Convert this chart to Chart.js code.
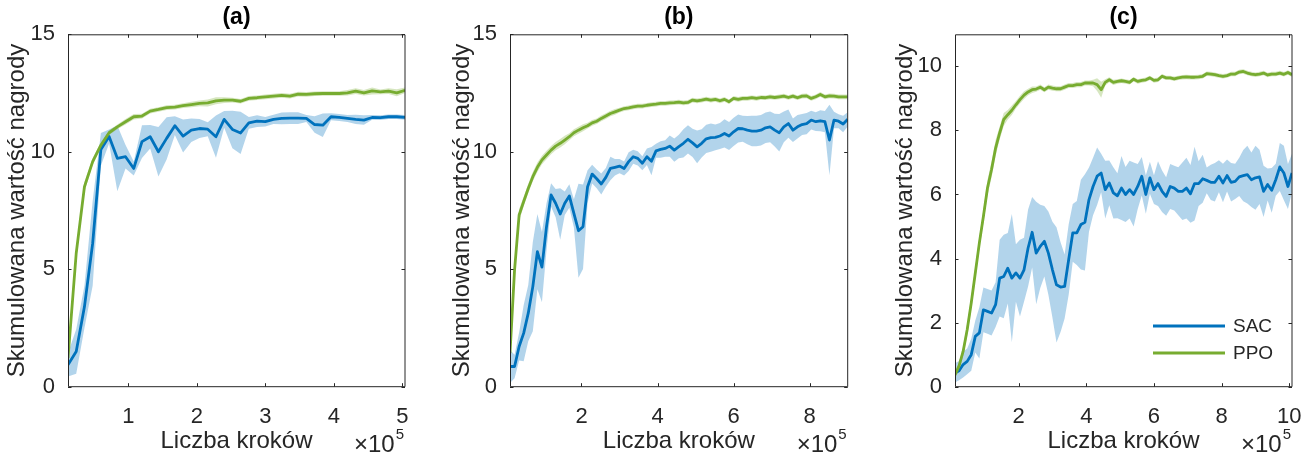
<!DOCTYPE html>
<html>
<head>
<meta charset="utf-8">
<script src="https://cdn.jsdelivr.net/npm/chart.js@4.4.0/dist/chart.umd.min.js"></script>
<style>
  html, body { margin: 0; padding: 0; background: #fff; }
  #wrap { position: relative; width: 1311px; height: 457px; overflow: hidden; }
  canvas { position: absolute; top: 0; }
</style>
</head>
<body>
<div id="wrap">
  <canvas id="chartA" width="442" height="457" style="left:0px"></canvas>
  <canvas id="chartB" width="445" height="457" style="left:442px"></canvas>
  <canvas id="chartC" width="424" height="457" style="left:887px"></canvas>
</div>
<script>
// one logged point every 12000 steps
const STEP = 12000
const xLabel = 'Liczba kroków'
const yLabel = 'Skumulowana wartość nagrody'
const seriesNames = ['SAC', 'PPO']

// (a)
const sacMeanA = [0.93,1.5,3.4,6.1,10.1,10.65,9.72,9.79,9.29,10.43,
  10.64,10.0,10.57,11.11,10.67,10.92,10.99,10.96,10.64,11.38,
  10.95,10.8,11.23,11.3,11.28,11.38,11.42,11.43,11.43,11.42,
  11.16,11.13,11.49,11.46,11.42,11.38,11.35,11.46,11.45,11.49,11.49,11.46]
const sacSdA = [0.5,0.95,0.9,1.8,0.7,0.3,1.4,0.5,0.3,0.7,
  0.5,1.05,0.9,0.4,0.7,0.5,0.4,0.3,0.9,0.36,
  0.8,0.9,0.25,0.25,0.2,0.2,0.25,0.25,0.25,0.15,
  0.35,0.5,0.15,0.15,0.15,0.2,0.2,0.1,0.1,0.1,0.1,0.1]
const ppoMeanA = [1.22,5.68,8.51,9.58,10.28,10.81,11.06,11.28,11.49,11.52,
  11.73,11.8,11.88,11.9,11.96,12.01,12.06,12.08,12.17,12.2,
  12.2,12.15,12.27,12.3,12.34,12.37,12.4,12.37,12.45,12.44,
  12.47,12.48,12.48,12.48,12.51,12.58,12.51,12.59,12.55,12.58,12.51,12.62]
const ppoSdA = [0.15,0.25,0.2,0.15,0.12,0.1,0.1,0.12,0.12,0.1,
  0.1,0.1,0.1,0.1,0.1,0.12,0.12,0.15,0.15,0.12,
  0.1,0.1,0.1,0.1,0.1,0.1,0.1,0.1,0.1,0.1,
  0.1,0.1,0.1,0.1,0.12,0.12,0.12,0.15,0.1,0.12,0.15,0.12]

// (b)
const sacMeanB = [0.86,0.86,1.71,2.28,3.13,4.26,5.75,5.09,6.81,8.16,
  7.81,7.35,7.81,8.12,7.38,6.64,6.81,8.51,9.05,8.85,
  8.63,8.91,9.29,9.34,9.39,9.29,9.58,9.79,9.72,9.51,
  9.79,9.6,10.04,10.1,10.14,10.24,10.07,10.22,10.36,10.53,
  10.38,10.21,10.36,10.55,10.6,10.61,10.67,10.78,10.67,10.85,
  10.99,10.98,10.92,10.88,10.88,10.92,11.02,11.06,10.92,10.81,
  11.06,11.2,10.92,11.06,11.16,11.2,11.35,11.28,11.32,11.28,
  10.5,11.35,11.3,11.18,11.38]
const sacSdB = [0.7,0.5,0.6,1.2,1.2,1.9,1.6,1.5,1.0,0.5,
  0.6,1.1,0.5,0.5,0.6,2.0,1.8,0.7,0.4,0.4,
  0.45,0.4,0.5,0.35,0.3,0.3,0.4,0.3,0.3,0.3,
  0.35,0.6,0.3,0.35,0.35,0.45,0.5,0.5,0.6,0.6,
  0.6,0.7,0.6,0.6,0.6,0.55,0.55,0.6,0.6,0.6,
  0.6,0.55,0.6,0.65,0.65,0.65,0.65,0.65,0.7,0.8,
  0.65,0.6,0.5,0.5,0.45,0.45,0.4,0.4,0.45,0.45,
  1.5,0.35,0.3,0.35,0.3]
const ppoMeanB = [1.43,4.97,7.31,7.88,8.44,8.94,9.34,9.65,9.86,10.07,
  10.24,10.36,10.5,10.64,10.81,10.92,11.02,11.11,11.23,11.3,
  11.42,11.52,11.63,11.7,11.77,11.84,11.87,11.91,11.94,11.94,
  11.98,12.01,12.03,12.06,12.06,12.08,12.09,12.11,12.08,12.1,
  12.2,12.17,12.2,12.24,12.2,12.23,12.17,12.23,12.13,12.27,
  12.23,12.27,12.27,12.3,12.27,12.31,12.3,12.34,12.31,12.34,
  12.37,12.31,12.37,12.3,12.37,12.38,12.27,12.34,12.44,12.34,
  12.38,12.37,12.34,12.34,12.34]
const ppoSdB = [0.2,0.3,0.25,0.2,0.2,0.2,0.2,0.18,0.18,0.18,
  0.18,0.18,0.18,0.15,0.15,0.15,0.15,0.12,0.12,0.12,
  0.12,0.12,0.12,0.12,0.1,0.1,0.1,0.1,0.1,0.1,
  0.1,0.1,0.1,0.1,0.1,0.1,0.1,0.1,0.1,0.1,
  0.1,0.1,0.1,0.1,0.1,0.1,0.1,0.1,0.1,0.1,
  0.1,0.1,0.1,0.1,0.1,0.1,0.1,0.1,0.1,0.1,
  0.1,0.1,0.1,0.1,0.1,0.1,0.1,0.1,0.1,0.1,
  0.1,0.1,0.1,0.1,0.1]

// (c)
const sacMeanC = [0.43,0.5,0.69,0.79,1.0,1.57,1.68,2.4,2.35,2.3,
  2.56,3.39,3.44,3.7,3.39,3.55,3.39,3.65,4.33,4.82,
  4.17,4.38,4.54,4.17,3.65,3.18,3.11,3.13,3.97,4.8,
  4.8,5.06,5.13,5.84,6.25,6.57,6.67,6.15,6.36,6.05,
  5.96,6.2,6.0,6.15,6.0,6.25,6.57,6.0,6.52,6.15,
  6.34,6.1,5.94,6.25,6.2,6.1,6.1,6.2,6.02,6.34,
  6.34,6.49,6.44,6.38,6.38,6.57,6.36,6.59,6.38,6.41,
  6.55,6.59,6.62,6.46,6.52,6.55,6.1,6.31,6.13,6.46,
  6.86,6.67,6.25,6.67]
const sacSdC = [0.3,0.3,0.4,0.4,0.5,0.5,0.8,0.7,0.7,0.7,
  0.7,1.2,1.3,1.1,2.0,0.9,1.2,1.0,1.2,1.1,
  1.6,1.3,1.1,1.3,1.5,1.8,1.4,1.0,1.1,0.9,
  1.0,1.4,1.5,1.0,0.9,0.9,0.6,0.9,0.7,0.8,
  0.7,1.0,0.86,0.9,1.0,0.7,0.6,0.6,0.5,0.45,
  0.7,0.65,0.6,0.7,0.7,0.75,0.9,0.95,0.9,1.15,
  0.7,0.75,0.4,0.55,0.6,0.5,0.6,0.5,0.6,0.55,
  0.6,0.8,0.9,0.85,1.0,0.85,0.8,0.5,0.7,0.5,
  0.75,0.85,0.7,0.6]
const ppoMeanC = [0.37,0.65,1.1,1.78,2.61,3.55,4.49,5.32,6.2,6.78,
  7.45,7.92,8.34,8.49,8.63,8.8,8.96,9.1,9.2,9.27,
  9.29,9.35,9.27,9.35,9.32,9.3,9.3,9.35,9.4,9.4,
  9.43,9.43,9.48,9.48,9.48,9.43,9.27,9.5,9.58,9.5,
  9.53,9.55,9.53,9.5,9.6,9.53,9.56,9.58,9.64,9.56,
  9.58,9.69,9.64,9.64,9.61,9.64,9.66,9.67,9.66,9.66,
  9.67,9.69,9.77,9.76,9.74,9.71,9.69,9.71,9.76,9.76,
  9.82,9.84,9.79,9.76,9.74,9.76,9.79,9.73,9.76,9.76,
  9.79,9.75,9.81,9.74]
const ppoSdC = [0.1,0.12,0.15,0.2,0.2,0.2,0.2,0.2,0.25,0.25,
  0.25,0.2,0.2,0.15,0.15,0.12,0.12,0.12,0.1,0.1,
  0.08,0.08,0.08,0.08,0.08,0.08,0.08,0.08,0.08,0.08,
  0.08,0.08,0.08,0.08,0.1,0.2,0.25,0.1,0.08,0.08,
  0.07,0.07,0.07,0.07,0.07,0.07,0.07,0.07,0.07,0.07,
  0.07,0.07,0.07,0.07,0.07,0.07,0.07,0.07,0.07,0.07,
  0.07,0.07,0.07,0.07,0.07,0.07,0.07,0.07,0.07,0.07,
  0.07,0.07,0.07,0.07,0.07,0.07,0.07,0.07,0.07,0.07,
  0.07,0.07,0.07,0.07]

const FONT = '"Liberation Sans", Arial, Helvetica, sans-serif'
const INK = '#262626'
const SAC_COLOR = '#0072BD'
const PPO_COLOR = '#77AC30'
const TICK = 3.5

// box round the axes with inward ticks, like matlab
const boxTicks = {
  id: 'boxTicks',
  afterDatasetsDraw(chart) {
    const {ctx, chartArea: a, scales: {x, y}} = chart
    ctx.save()
    ctx.strokeStyle = INK
    ctx.lineWidth = 1
    ctx.beginPath()
    ctx.rect(a.left + 0.5, a.top + 0.5, a.right - a.left - 0.5, a.bottom - a.top - 0.5)
    x.ticks.forEach(t => {
      const px = Math.round(x.getPixelForValue(t.value)) + 0.5
      ctx.moveTo(px, a.bottom); ctx.lineTo(px, a.bottom - TICK)
      ctx.moveTo(px, a.top); ctx.lineTo(px, a.top + TICK)
    })
    y.ticks.forEach(t => {
      const py = Math.round(y.getPixelForValue(t.value)) + 0.5
      ctx.moveTo(a.left, py); ctx.lineTo(a.left + TICK, py)
      ctx.moveTo(a.right, py); ctx.lineTo(a.right - TICK, py)
    })
    ctx.stroke()
    ctx.restore()
  }
}

// the x10^5 multiplier under the right end of the x axis
const exponent = {
  id: 'exponent',
  afterDraw(chart) {
    const {ctx, chartArea: a} = chart
    ctx.save()
    ctx.fillStyle = INK
    ctx.textBaseline = 'alphabetic'
    ctx.textAlign = 'right'
    ctx.font = '15px ' + FONT
    const supW = ctx.measureText('5').width
    ctx.fillText('5', a.right - 1, 439)
    ctx.font = '24px ' + FONT
    ctx.fillText('\u00d710', a.right - 2 - supW, 452)
    ctx.restore()
  }
}

// legend drawn inside the last panel
const insideLegend = {
  id: 'insideLegend',
  afterDraw(chart, args, opts) {
    if (!opts.show) return
    const {ctx} = chart
    const items = chart.data.datasets.filter(d => d.isMean)
    ctx.save()
    ctx.font = '19px ' + FONT
    ctx.textBaseline = 'middle'
    ctx.textAlign = 'left'
    items.forEach((d, i) => {
      const yy = opts.y + i * opts.gap
      ctx.strokeStyle = d.borderColor
      ctx.lineWidth = 2.8
      ctx.beginPath()
      ctx.moveTo(opts.x, yy); ctx.lineTo(opts.x + 72, yy)
      ctx.stroke()
      ctx.fillStyle = INK
      ctx.fillText(d.label, opts.x + 80, yy + 1)
    })
    ctx.restore()
  }
}

function steps(n) {
  return Array.from({length: n}, (_, i) => (i + 1) * STEP)
}

// ticks only at round multiples of the step, inside the axis limits
const roundTicks = step => scale => {
  const ticks = []
  for (let v = Math.ceil(scale.min / step - 1e-9) * step; v <= scale.max + 1e-9; v += step) {
    ticks.push({value: v})
  }
  scale.ticks = ticks
}

function makeChart(id, p) {
  const xs = steps(p.sacMean.length)
  const line = (m) => xs.map((x, i) => ({x, y: m[i]}))
  const edge = (m, s, sign) => xs.map((x, i) => ({x, y: m[i] + sign * s[i]}))
  const band = (m, s, color, order) => ([
    {data: edge(m, s, 1), fill: '+1', backgroundColor: color, borderColor: 'transparent', borderWidth: 0, order},
    {data: edge(m, s, -1), fill: false, borderColor: 'transparent', borderWidth: 0, order}
  ])
  const datasets = [
    ...band(p.sacMean, p.sacSd, 'rgba(0,114,189,0.3)', 4),
    {label: seriesNames[0], isMean: true, data: line(p.sacMean), borderColor: SAC_COLOR, borderWidth: 2.8, fill: false, order: 3},
    ...band(p.ppoMean, p.ppoSd, 'rgba(119,172,48,0.3)', 2),
    {label: seriesNames[1], isMean: true, data: line(p.ppoMean), borderColor: PPO_COLOR, borderWidth: 2.8, fill: false, order: 1}
  ]
  return new Chart(document.getElementById(id), {
    type: 'line',
    data: {datasets},
    plugins: [boxTicks, exponent, insideLegend],
    options: {
      responsive: false,
      devicePixelRatio: 1,
      animation: false,
      layout: {padding: {left: 0, right: p.padRight, top: 0, bottom: 0}},
      elements: {point: {radius: 0}, line: {tension: 0, borderJoinStyle: 'round'}},
      plugins: {
        legend: {display: false},
        tooltip: {enabled: false},
        title: {
          display: true, text: p.title, fullSize: false, color: '#000',
          font: {family: FONT, size: 23, weight: 'bold'},
          padding: {top: 4, bottom: 2.7}
        },
        insideLegend: p.legend || {show: false}
      },
      scales: {
        x: {
          type: 'linear', min: STEP, max: xs[xs.length - 1], bounds: 'data',
          grid: {display: false}, border: {display: false},
          ticks: {
            color: INK, padding: 9, autoSkip: false,
            font: {family: FONT, size: 22}, maxRotation: 0,
            callback: v => String(Math.round(v / 1000) / 100)
          },
          afterBuildTicks: roundTicks(p.xStep),
          title: {display: true, text: xLabel, color: INK, font: {family: FONT, size: 24}, padding: {top: 0, bottom: 1}},
          afterFit: s => { s.height = 70.3 }
        },
        y: {
          min: 0, max: p.yMax, bounds: 'data',
          grid: {display: false}, border: {display: false},
          ticks: {color: INK, padding: 5, autoSkip: false, font: {family: FONT, size: 22}},
          afterBuildTicks: roundTicks(p.yStep),
          title: {display: true, text: yLabel, color: INK, font: {family: FONT, size: 24}, padding: {top: p.yTitlePad, bottom: 0}},
          afterFit: s => { s.width = 68 }
        }
      }
    }
  })
}

makeChart('chartA', {title: '(a)', sacMean: sacMeanA, sacSd: sacSdA, ppoMean: ppoMeanA, ppoSd: ppoSdA,
  xStep: 100000, yMax: 15, yStep: 5, padRight: 37, yTitlePad: 3})
makeChart('chartB', {title: '(b)', sacMean: sacMeanB, sacSd: sacSdB, ppoMean: ppoMeanB, ppoSd: ppoSdB,
  xStep: 200000, yMax: 15, yStep: 5, padRight: 39.3, yTitlePad: 5.6})
makeChart('chartC', {title: '(c)', sacMean: sacMeanC, sacSd: sacSdC, ppoMean: ppoMeanC, ppoSd: ppoSdC,
  xStep: 200000, yMax: 11, yStep: 2, padRight: 19, yTitlePad: 3.6,
  legend: {show: true, x: 266, y: 326, gap: 27}})
</script>
</body>
</html>
